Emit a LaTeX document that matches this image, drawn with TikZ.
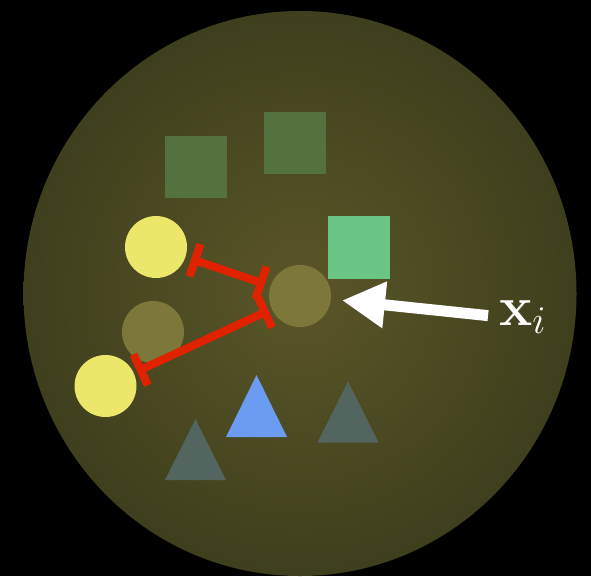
\RequirePackage{fix-cm}
\documentclass[tikz,border=0pt]{standalone}
\usetikzlibrary{arrows.meta}

\definecolor{bgin}{HTML}{5A5628}
\definecolor{bgout}{HTML}{3E3F1D}
\definecolor{sqdark}{HTML}{547140}
\definecolor{sqlight}{HTML}{6BC585}
\definecolor{ylw}{HTML}{ECE66B}
\definecolor{faded}{HTML}{7B7839}
\definecolor{triblue}{HTML}{6B9CF2}
\definecolor{trigrey}{HTML}{53655F}
\definecolor{distred}{HTML}{E02200}

\begin{document}
\begin{tikzpicture}[x=1pt, y=-1pt,
  pt/.style={circle, minimum size=62pt, inner sep=0pt},
  dist/.style={draw=distred, line width=8pt, {Bar[width=34pt]}-{Bar[width=34pt]}}]
  \useasboundingbox (0,0) rectangle (591,576);
  \fill[black] (0,0) rectangle (591,576);
  \shade[inner color=bgin, outer color=bgout] (300,293.5) ellipse [x radius=276.5pt, y radius=282.5pt];

  % squares
  \fill[sqdark] (165,136) rectangle ++(62,62);
  \fill[sqdark] (264,112) rectangle ++(62,62);
  \fill[sqlight] (328,216) rectangle ++(62,63);

  % triangles
  \fill[trigrey] (165,480) -- ++(30.5,-61) -- ++(30.5,61) -- cycle;
  \fill[triblue] (226,437) -- ++(30.5,-62) -- ++(30.5,62) -- cycle;
  \fill[trigrey] (317.5,442.5) -- ++(30.5,-61) -- ++(30.5,61) -- cycle;

  % points
  \node[pt, fill=ylw] (y1) at (156,247) {};
  \node[pt, fill=ylw] (y2) at (105.5,386) {};
  \node[pt, fill=faded] (f1) at (153,332) {};
  \node[pt, fill=faded] (ctr) at (300,296) {};

  \draw[dist, shorten <=6pt, shorten >=6pt] (y1) -- (ctr);
  \draw[dist, shorten <=3.5pt, shorten >=3.5pt] (y2) -- (ctr);

  \node[text=white, font=\fontsize{56}{60}\selectfont, inner sep=0pt, anchor=base west] (xi) at (499,325) {$\mathbf{x}_i$};
  \draw[white, line width=11pt, -{Triangle[length=43pt, width=44pt]}, shorten <=11pt, shorten >=11pt] (xi.west) -- (ctr);
\end{tikzpicture}
\end{document}
